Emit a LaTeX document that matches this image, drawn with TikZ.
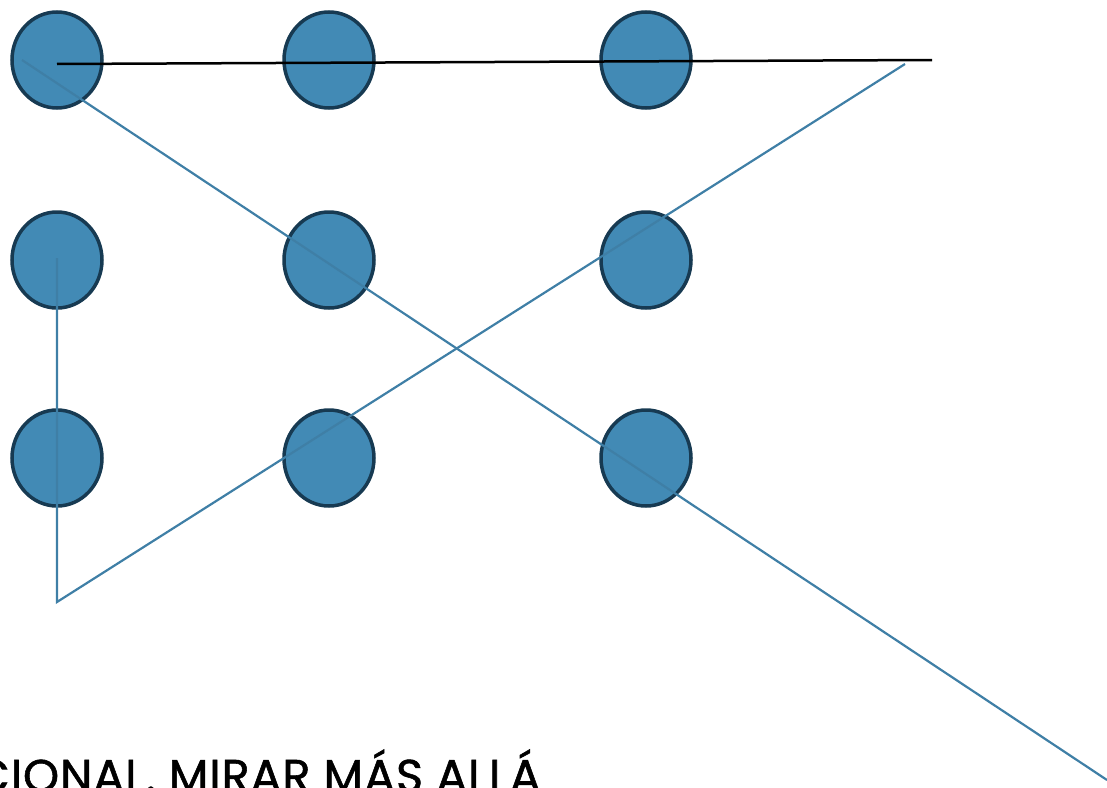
\documentclass[tikz,border=0pt]{standalone}
\usepackage{fontspec}
\usetikzlibrary{shapes.geometric}
\newfontfamily\capsfont[LetterSpace=2,FakeBold=1.2]{Poppins}
\definecolor{dotfill}{HTML}{428AB5}
\definecolor{dotrim}{HTML}{173A52}
\definecolor{pathblue}{HTML}{3F7FA6}
\begin{document}
\begin{tikzpicture}[x=1pt,y=-1pt,
  dot/.style={ellipse,draw=dotrim,fill=dotfill,line width=3.5pt,minimum width=90pt,minimum height=96pt,inner sep=0pt},
  trail/.style={draw=pathblue,line width=2.2pt},
  bar/.style={draw=black,line width=2.5pt}]
\useasboundingbox (0,0) rectangle (1107,787);
\begin{scope}
\clip (0,0) rectangle (1107,787);
% nine dots
\node[dot] (c11) at (57,60) {};
\node[dot] (c12) at (329,60) {};
\node[dot] (c13) at (646,60) {};
\node[dot] (c21) at (57,260) {};
\node[dot] (c22) at (329,260) {};
\node[dot] (c23) at (646,260) {};
\node[dot] (c31) at (57,458) {};
\node[dot] (c32) at (329,458) {};
\node[dot] (c33) at (646,458) {};
% end points of the strokes
\coordinate (barEnd) at (932,60);
\coordinate (diagStart) at (22,60);
\coordinate (diagEnd) at (1107,780);
\coordinate (vStart) at (57,258);
\coordinate (corner) at (57,602);
\coordinate (riseEnd) at (905,64);
% strokes
\draw[bar] ([yshift=-4pt]c11.center) -- (barEnd);
\draw[trail] (diagStart) -- (diagEnd);
\draw[trail] (vStart) -- (corner) -- (riseEnd);
% caption
\node[anchor=base east,inner sep=0pt,font=\capsfont\fontsize{46}{46}\selectfont] (caption) at (541,792) {CIONAL. MIRAR MÁS ALLÁ};
\end{scope}
\end{tikzpicture}
\end{document}
